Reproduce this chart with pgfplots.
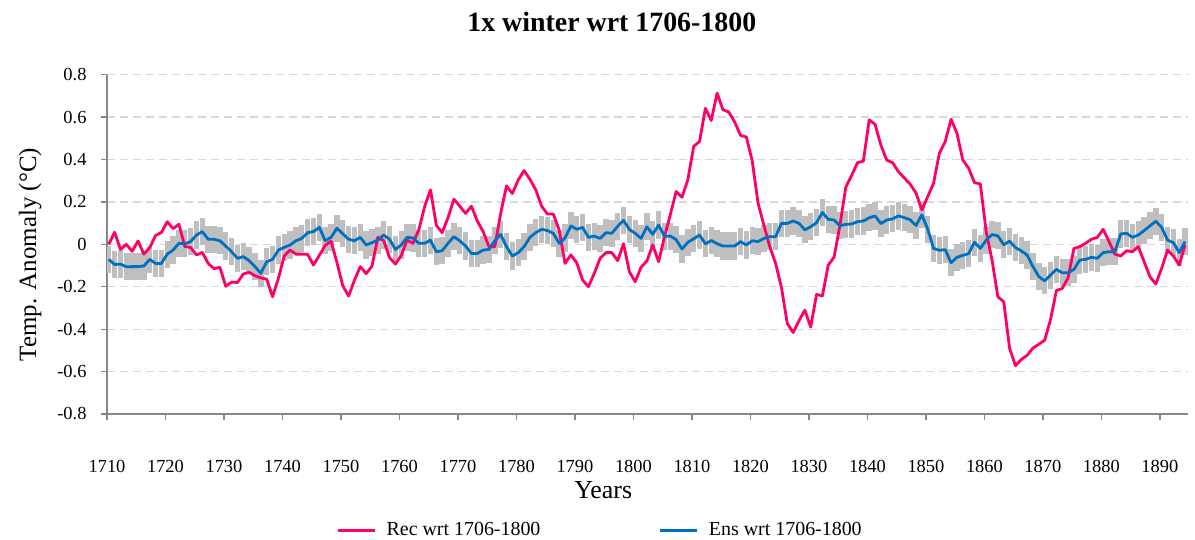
\documentclass[border=0pt]{standalone}
\usepackage{pgfplots}
\pgfplotsset{compat=1.18}
\usepackage{pgfplotstable}
\usepackage{fontspec}
\setmainfont{Liberation Serif}
\definecolor{recred}{HTML}{FF0066}
\definecolor{ensblue}{HTML}{0070C0}
\definecolor{bargray}{HTML}{BFBFBF}
\definecolor{gridgray}{HTML}{D9D9D9}
\definecolor{axgray}{HTML}{868686}
\pgfplotstableread{
year rec ens
1710 0.000 -0.071
1711 0.057 -0.095
1712 -0.024 -0.093
1713 0.000 -0.106
1714 -0.033 -0.105
1715 0.016 -0.105
1716 -0.046 -0.102
1717 -0.016 -0.071
1718 0.042 -0.090
1719 0.056 -0.090
1720 0.107 -0.046
1721 0.074 -0.027
1722 0.095 0.005
1723 -0.010 0.002
1724 -0.015 0.013
1725 -0.050 0.044
1726 -0.038 0.060
1727 -0.090 0.024
1728 -0.115 0.024
1729 -0.108 0.017
1730 -0.198 -0.008
1731 -0.178 -0.035
1732 -0.180 -0.066
1733 -0.140 -0.058
1734 -0.132 -0.077
1735 -0.148 -0.105
1736 -0.158 -0.137
1737 -0.164 -0.082
1738 -0.247 -0.071
1739 -0.160 -0.027
1740 -0.055 -0.014
1741 -0.027 -0.003
1742 -0.046 0.017
1743 -0.046 0.028
1744 -0.047 0.055
1745 -0.098 0.060
1746 -0.052 0.080
1747 -0.005 0.017
1748 0.015 0.033
1749 -0.085 0.076
1750 -0.195 0.050
1751 -0.244 0.024
1752 -0.169 0.017
1753 -0.105 0.033
1754 -0.138 -0.003
1755 -0.103 0.008
1756 0.033 0.020
1757 0.018 0.044
1758 -0.063 0.024
1759 -0.093 -0.024
1760 -0.053 -0.003
1761 0.020 0.033
1762 0.005 0.030
1763 0.068 0.005
1764 0.178 0.005
1765 0.257 0.020
1766 0.090 -0.035
1767 0.055 -0.030
1768 0.126 0.005
1769 0.213 0.036
1770 0.180 0.017
1771 0.146 -0.008
1772 0.180 -0.043
1773 0.110 -0.043
1774 0.060 -0.027
1775 -0.011 -0.024
1776 -0.011 0.017
1777 0.146 0.047
1778 0.276 -0.011
1779 0.240 -0.055
1780 0.304 -0.039
1781 0.348 -0.011
1782 0.307 0.033
1783 0.257 0.055
1784 0.180 0.071
1785 0.143 0.065
1786 0.143 0.052
1787 0.068 0.005
1788 -0.090 0.030
1789 -0.050 0.087
1790 -0.087 0.071
1791 -0.168 0.080
1792 -0.200 0.033
1793 -0.137 0.039
1794 -0.066 0.028
1795 -0.039 0.055
1796 -0.039 0.052
1797 -0.077 0.085
1798 0.003 0.113
1799 -0.129 0.070
1800 -0.176 0.052
1801 -0.108 0.028
1802 -0.078 0.083
1803 -0.003 0.047
1804 -0.082 0.091
1805 0.035 0.038
1806 0.140 0.039
1807 0.249 0.022
1808 0.222 -0.022
1809 0.305 0.010
1810 0.462 0.026
1811 0.485 0.044
1812 0.642 0.002
1813 0.584 0.018
1814 0.713 0.003
1815 0.635 -0.008
1816 0.624 -0.008
1817 0.577 -0.008
1818 0.514 0.013
1819 0.506 -0.003
1820 0.394 0.017
1821 0.194 0.013
1822 0.090 0.028
1823 -0.010 0.036
1824 -0.090 0.036
1825 -0.204 0.099
1826 -0.373 0.099
1827 -0.416 0.110
1828 -0.360 0.099
1829 -0.310 0.068
1830 -0.390 0.083
1831 -0.236 0.102
1832 -0.243 0.150
1833 -0.098 0.118
1834 -0.060 0.115
1835 0.090 0.088
1836 0.270 0.094
1837 0.325 0.096
1838 0.385 0.107
1839 0.392 0.110
1840 0.587 0.125
1841 0.566 0.134
1842 0.468 0.098
1843 0.397 0.115
1844 0.385 0.120
1845 0.343 0.134
1846 0.313 0.126
1847 0.284 0.116
1848 0.242 0.089
1849 0.162 0.139
1850 0.225 0.072
1851 0.288 -0.019
1852 0.430 -0.028
1853 0.485 -0.025
1854 0.590 -0.087
1855 0.524 -0.061
1856 0.398 -0.052
1857 0.359 -0.044
1858 0.291 0.010
1859 0.285 -0.019
1860 0.060 0.020
1861 -0.074 0.046
1862 -0.247 0.040
1863 -0.271 -0.002
1864 -0.490 0.015
1865 -0.572 -0.015
1866 -0.543 -0.031
1867 -0.523 -0.050
1868 -0.489 -0.105
1869 -0.471 -0.152
1870 -0.452 -0.172
1871 -0.355 -0.145
1872 -0.218 -0.118
1873 -0.208 -0.134
1874 -0.158 -0.134
1875 -0.019 -0.118
1876 -0.011 -0.074
1877 0.005 -0.071
1878 0.024 -0.061
1879 0.033 -0.066
1880 0.071 -0.039
1881 0.013 -0.035
1882 -0.046 -0.035
1883 -0.055 0.049
1884 -0.030 0.052
1885 -0.035 0.033
1886 -0.011 0.044
1887 -0.082 0.065
1888 -0.153 0.087
1889 -0.187 0.109
1890 -0.113 0.080
1891 -0.027 0.020
1892 -0.055 0.008
1893 -0.098 -0.039
1894 -0.003 0.013
}\datatable
\begin{document}
\begin{tikzpicture}
\useasboundingbox (0,0) rectangle (1195bp,540bp);
\begin{axis}[
  at={(107bp,126bp)}, anchor=south west,
  scale only axis, width=1081bp, height=339.3bp,
  xmin=1709.7, xmax=1894.5, ymin=-0.8, ymax=0.8,
  axis x line*=bottom, axis y line*=left,
  axis line style={draw=axgray, line width=1.3bp},
  tick align=outside, major tick length=6bp,
  tick style={draw=axgray, line width=1.3bp},
  xtick={1709.7,1719.7,1729.7,1739.7,1749.7,1759.7,1769.7,1779.7,1789.7,1799.7,1809.7,1819.7,1829.7,1839.7,1849.7,1859.7,1869.7,1879.7,1889.7},
  xticklabels={1710,1720,1730,1740,1750,1760,1770,1780,1790,1800,1810,1820,1830,1840,1850,1860,1870,1880,1890},
  ytick={-0.8,-0.6,-0.4,-0.2,0,0.2,0.4,0.6,0.8},
  yticklabels={-0.8,-0.6,-0.4,-0.2,0,0.2,0.4,0.6,0.8},
  ymajorgrids,
  major grid style={draw=gridgray, line width=1.3bp, dash pattern=on 8bp off 5bp},
  xticklabel style={font=\fontsize{18.5}{22}\selectfont, anchor=north, yshift=-37bp},
  yticklabel style={font=\fontsize{18.5}{22}\selectfont, anchor=east, xshift=-11bp},
  title={1x winter wrt 1706-1800},
  title style={font=\fontsize{28}{34}\selectfont\bfseries, at={(0.467,1.137)}, anchor=center},
  xlabel={Years},
  xlabel style={font=\fontsize{26}{31}\selectfont, at={(0.459,-0.224)}, anchor=center},
  ylabel={Temp. Anomaly (°C)},
  ylabel style={font=\fontsize{25}{30}\selectfont, at={(-0.071,0.47)}, anchor=center, rotate=0},
  legend columns=2,
  legend style={at={(0.456,-0.342)}, anchor=center, draw=none, fill=none,
    font=\fontsize{20}{24}\selectfont,
    /tikz/every even column/.append style={column sep=116bp}},
  legend image code/.code={\draw[#1, line width=3bp] (0bp,0bp) -- (37bp,0bp); \path[draw=none] (0bp,0bp) -- (47bp,0bp);},
]
\addplot[forget plot, draw=none, mark=none,
  error bars/.cd, y dir=both, y fixed=0.064, error mark=none,
  error bar style={draw=bargray, line width=5.4bp, solid}]
  table[x=year, y=ens] {\datatable};
\addplot[recred, line width=2.8bp, mark=none, line join=round] table[x=year, y=rec] {\datatable};
\addlegendentry{Rec wrt 1706-1800}
\addplot[ensblue, line width=2.8bp, mark=none, line join=round] table[x=year, y=ens] {\datatable};
\addlegendentry{Ens wrt 1706-1800}
\end{axis}
\end{tikzpicture}
\end{document}
